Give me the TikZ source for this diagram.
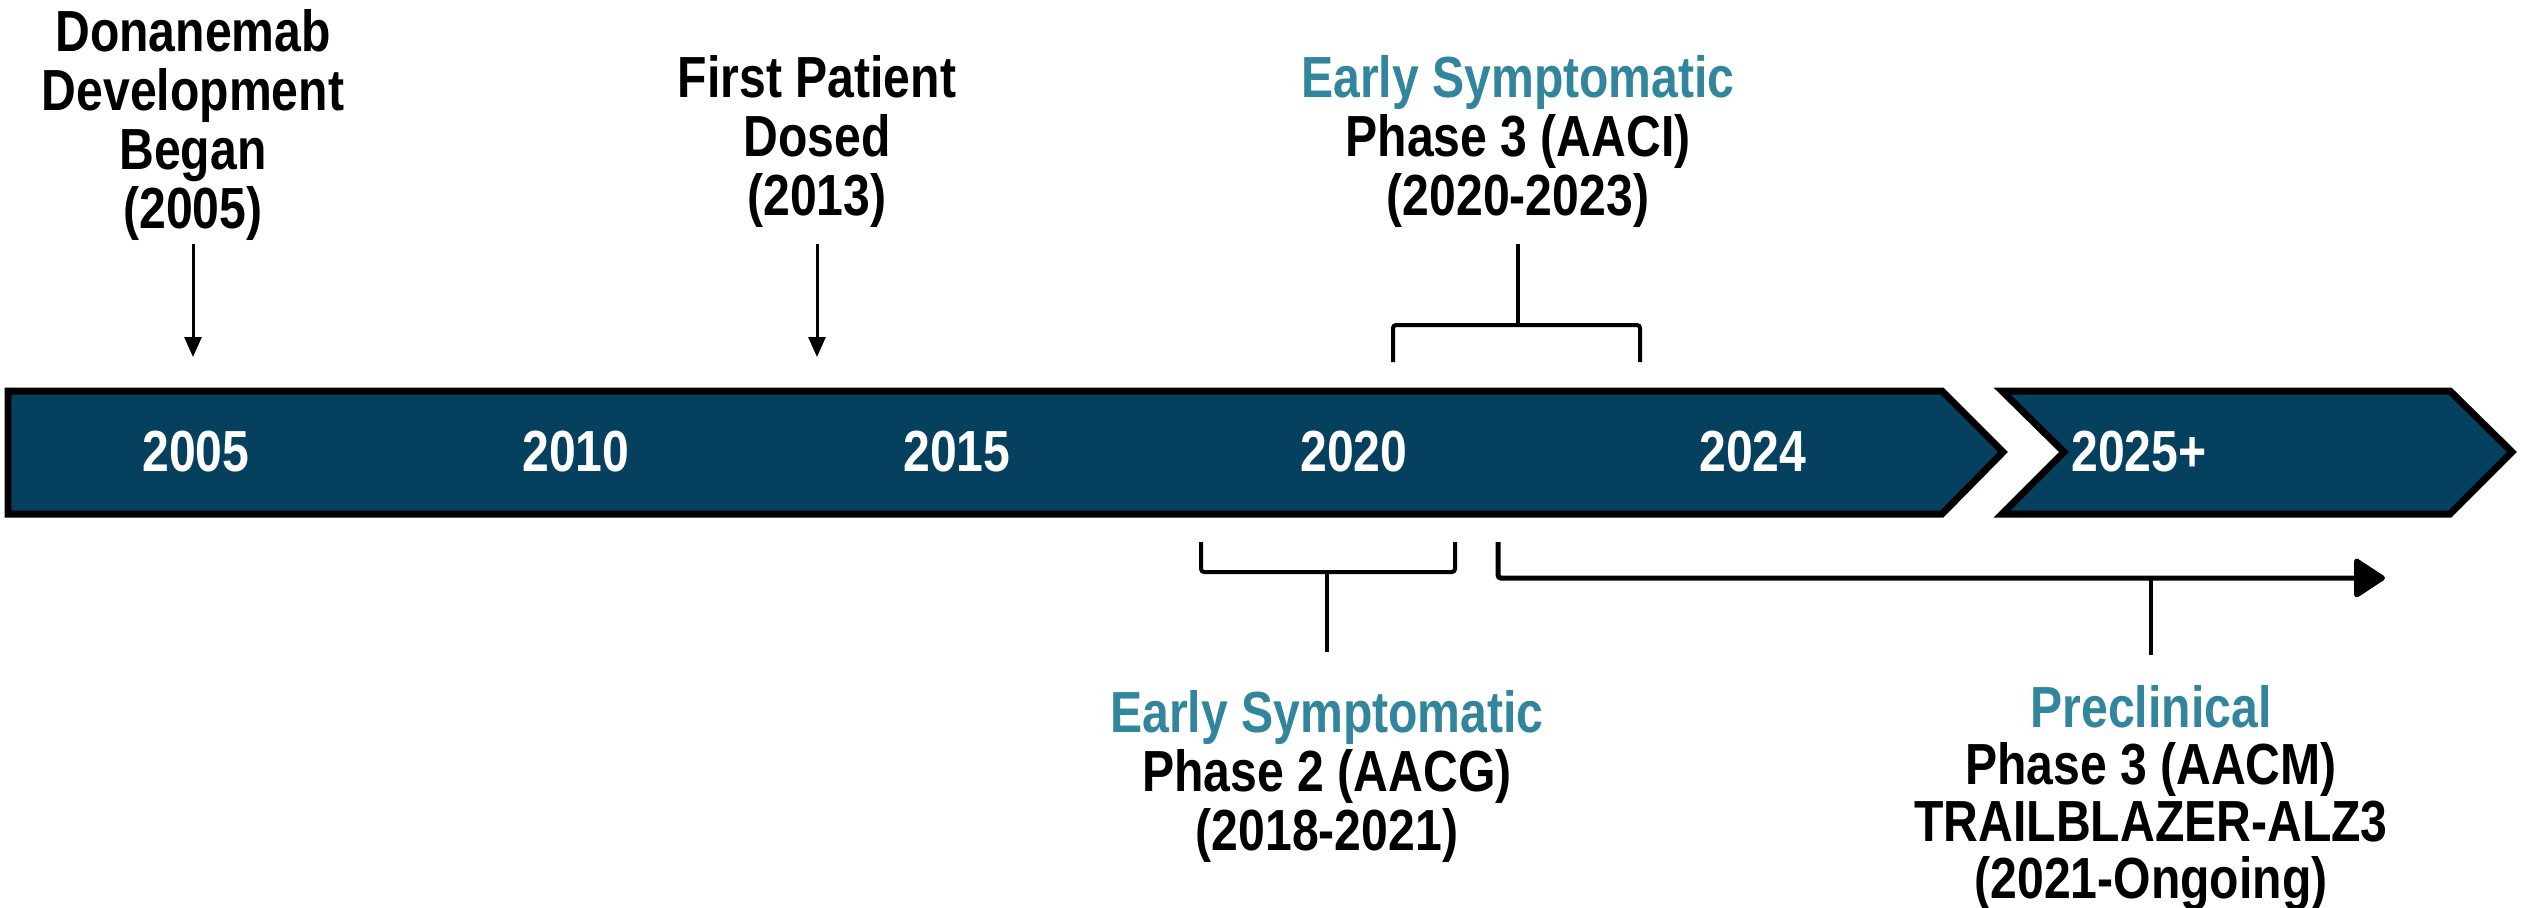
\documentclass[tikz,border=0pt]{standalone}
\usepackage{fontspec}
\setmainfont{Liberation Sans}[FakeStretch=0.83]
\usetikzlibrary{arrows.meta,positioning}
\definecolor{tlnavy}{HTML}{05405E}
\definecolor{tlteal}{HTML}{31859C}

\begin{document}
\begin{tikzpicture}[
  x=0.1mm,y=-0.1mm,
  every node/.style={font=\fontsize{16.5}{16.8}\selectfont\bfseries,
                     inner sep=0pt},
  yr/.style={text=white},
  ev/.style={align=center},
  bar/.style={draw=black,line width=0.7mm,fill=tlnavy,line join=miter},
  ar/.style={-{Triangle[length=2mm,width=1.7mm]},line width=0.3mm},
  br/.style={line width=0.4mm,rounded corners=0.3mm},
  ao/.style={-{Triangle[length=3.3mm,width=4.2mm,round]},
             line width=0.5mm,rounded corners=0.3mm}
]
\useasboundingbox (0,0) rectangle (2522,908);

% timeline bar and the open-ended chevron
\draw[bar] (8,391) -- (1942,391) -- (2003,452) -- (1942,514)
           -- (8,514) -- cycle;
\draw[bar] (2002,391) -- (2450,391) -- (2512,452) -- (2450,514)
           -- (2002,514) -- (2064,452) -- cycle;

\foreach \x/\t in {196/2005,576/2010,957/2015,1354/2020,1753/2024}
  \node[yr] (y\t) at (\x,452) {\t};
\node[yr] (y2025) at (2139,452) {2025+};

% milestones above the bar
\coordinate (d0) at (193,244);
\coordinate (d1) at (193,357);
\node[ev,above=0.3mm of d0] (Dev)
     {Donanemab\\Development\\Began\\(2005)};
\draw[ar] (d0) -- (d1);

\coordinate (f0) at (817,244);
\coordinate (f1) at (817,357);
\node[ev,above=1.6mm of f0] (FPD) {First Patient\\Dosed\\(2013)};
\draw[ar] (f0) -- (f1);

\coordinate (s3t) at (1518,244);
\coordinate (s3b) at (1518,325);
\coordinate (b3l) at (1393,362);
\coordinate (b3r) at (1640,362);
\node[ev,above=1.6mm of s3t] (AACI)
     {{\color{tlteal}Early Symptomatic}\\Phase 3 (AACI)\\(2020-2023)};
\draw[br] (b3l) |- (s3b) -| (b3r);
\draw[br] (s3b) -- (s3t);

% trials below the bar
\coordinate (b2l) at (1201,542);
\coordinate (b2r) at (1455,542);
\coordinate (s2t) at (1327,572);
\coordinate (s2b) at (1327,652);
\draw[br] (b2l) |- (s2t) -| (b2r);
\draw[br] (s2t) -- (s2b);
\node[ev,below=3.8mm of s2b] (AACG)
     {{\color{tlteal}Early Symptomatic}\\Phase 2 (AACG)\\(2018-2021)};

\coordinate (pa) at (1498,542);
\coordinate (pe) at (2385,578);
\coordinate (s4t) at (2151,578);
\coordinate (s4b) at (2151,655);
\draw[ao] (pa) |- (pe);
\draw[br] (s4t) -- (s4b);
\node[ev,below=3mm of s4b,
      font=\fontsize{16.5}{16.2}\selectfont\bfseries] (AACM)
     {{\color{tlteal}Preclinical}\\Phase 3 (AACM)\\TRAILBLAZER-ALZ3\\(2021-Ongoing)};
\end{tikzpicture}
\end{document}
